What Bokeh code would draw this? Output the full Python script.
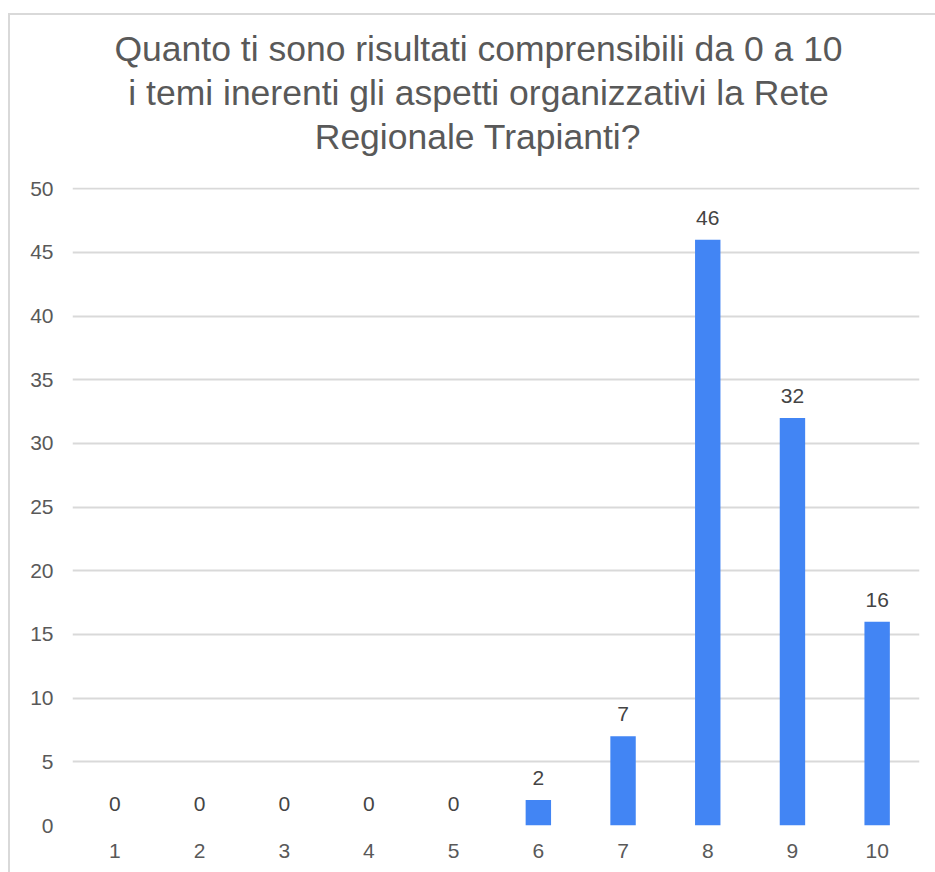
from bokeh.plotting import figure
from bokeh.models import ColumnDataSource, Range1d, FixedTicker, LabelSet, Title
from bokeh.core.properties import value
from bokeh.embed import file_html
from bokeh.resources import INLINE

categories = ["1", "2", "3", "4", "5", "6", "7", "8", "9", "10"]
values = [0, 0, 0, 0, 0, 2, 7, 46, 32, 16]
title_lines = [
    "Quanto ti sono risultati comprensibili da 0 a 10",
    "i temi inerenti gli aspetti organizzativi la Rete",
    "Regionale Trapianti?",
]
y_ticks = [0, 5, 10, 15, 20, 25, 30, 35, 40, 45, 50]

FONT = "Liberation Sans"
GRAY = "#595959"
TITLE_SIZE = 35.5

# Arial / Liberation Sans advance widths (per 1000 em) used to centre title lines
ADV = {" ": 278, "?": 556, "0": 556, "1": 556, "Q": 778, "R": 722, "T": 611,
       "a": 556, "b": 556, "c": 500, "d": 556, "e": 556, "g": 556, "i": 222,
       "l": 222, "m": 833, "n": 556, "o": 556, "p": 556, "r": 333, "s": 500,
       "t": 278, "u": 556, "v": 500, "z": 500}


def text_width(s, size):
    return sum(ADV.get(ch, 556) for ch in s) / 1000.0 * size


src = ColumnDataSource(dict(cat=categories, val=values, lab=[str(v) for v in values]))

W, H = 935, 872
LEFT, RIGHT, TOP, BOTTOM = 72, 16, 187, 47

p = figure(
    x_range=categories,
    y_range=Range1d(0, 50.1),
    width=W,
    height=H,
    output_backend="svg",
    toolbar_location=None,
    min_border_left=LEFT,
    min_border_right=RIGHT,
    min_border_top=TOP,
    min_border_bottom=BOTTOM,
)
p.border_fill_color = None
p.styles = {
    "background": "linear-gradient(#d9d9d9,#d9d9d9) 8px 13px / 100% 2px no-repeat, "
                  "linear-gradient(#d9d9d9,#d9d9d9) 8px 13px / 2px 100% no-repeat",
}

p.vbar(x="cat", top="val", width=0.3, source=src, fill_color="#4285F4", line_color=None)

labels = LabelSet(x="cat", y="val", text="lab", source=src, text_align="center",
                  text_baseline="alphabetic", y_offset=15, text_font=value(FONT),
                  text_font_size="21px", text_color="#444444")
p.add_layout(labels)

# spacer between frame and title block
p.add_layout(Title(text=" ", text_font_size="10px", standoff=17), "above")

# three centred title lines (bottom line first: nearest the frame)
title_center = 478
for line in reversed(title_lines):
    off = title_center - LEFT - text_width(line, TITLE_SIZE) / 2
    t = Title(text=line, align="left", offset=off, text_font=FONT,
              text_font_size=f"{TITLE_SIZE}px", text_font_style="normal",
              text_color=GRAY, standoff=2)
    p.add_layout(t, "above")

p.outline_line_color = None
p.xgrid.grid_line_color = None
p.ygrid.grid_line_color = "#d9d9d9"
p.ygrid.grid_line_width = 2
p.yaxis.ticker = FixedTicker(ticks=y_ticks)

for ax in (p.xaxis, p.yaxis):
    ax.axis_line_color = None
    ax.major_tick_line_color = None
    ax.minor_tick_line_color = None
    ax.major_tick_out = 0
    ax.major_tick_in = 0
    ax.major_label_text_font = FONT
    ax.major_label_text_font_size = "21px"
    ax.major_label_text_color = GRAY
p.yaxis.major_label_standoff = 19
p.xaxis.major_label_standoff = 18

open("out.html", "w").write(file_html(p, INLINE))
